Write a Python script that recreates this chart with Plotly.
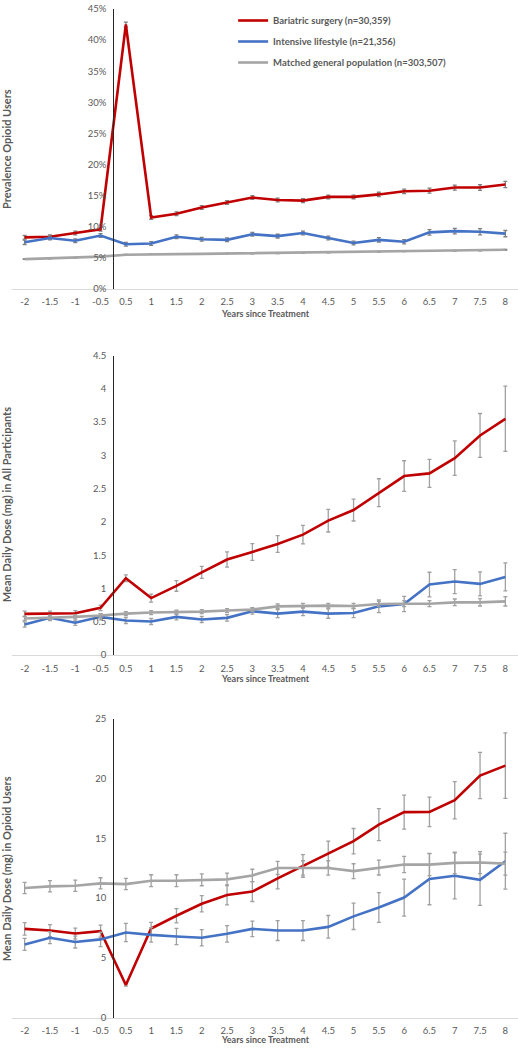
import plotly.graph_objects as go

years = ["-2", "-1.5", "-1", "-0.5", "0.5", "1", "1.5", "2", "2.5", "3", "3.5",
         "4", "4.5", "5", "5.5", "6", "6.5", "7", "7.5", "8"]

series_names = ["Bariatric surgery (n=30,359)", "Intensive lifestyle (n=21,356)",
                "Matched general population (n=303,507)"]

# Panel 1: prevalence of opioid users (%)
prev_bs = [8.3, 8.4, 9.0, 9.6, 42.5, 11.5, 12.1, 13.1, 13.9, 14.7, 14.3, 14.2, 14.8, 14.8, 15.2, 15.7, 15.8, 16.3, 16.3, 16.8]
prev_bs_err = [0.3, 0.3, 0.3, 0.3, 0.4, 0.3, 0.3, 0.3, 0.3, 0.3, 0.3, 0.3, 0.3, 0.3, 0.35, 0.35, 0.4, 0.4, 0.45, 0.5]
prev_il = [7.5, 8.2, 7.75, 8.6, 7.2, 7.3, 8.4, 8.0, 7.9, 8.8, 8.5, 9.0, 8.2, 7.4, 7.9, 7.6, 9.1, 9.3, 9.2, 8.9]
prev_il_err = [0.35, 0.3, 0.3, 0.3, 0.3, 0.3, 0.3, 0.3, 0.3, 0.3, 0.3, 0.3, 0.3, 0.3, 0.35, 0.35, 0.45, 0.45, 0.5, 0.5]
prev_gp = [4.8, 4.9, 5.0, 5.2, 5.5, 5.6, 5.6, 5.65, 5.7, 5.7, 5.75, 5.8, 5.85, 5.95, 6.0, 6.05, 6.1, 6.15, 6.2, 6.3]
prev_gp_err = [0.05] * 20

# Panel 2: mean daily dose (mg) in all participants
dose_bs = [0.62, 0.62, 0.63, 0.71, 1.155, 0.857, 1.04, 1.244, 1.437, 1.55, 1.67, 1.81, 2.02, 2.18, 2.44, 2.69, 2.73, 2.96, 3.30, 3.55]
dose_bs_err = [0.04, 0.04, 0.04, 0.04, 0.05, 0.06, 0.08, 0.09, 0.115, 0.125, 0.125, 0.14, 0.17, 0.165, 0.21, 0.23, 0.21, 0.26, 0.33, 0.49]
dose_il = [0.46, 0.56, 0.486, 0.575, 0.52, 0.505, 0.575, 0.535, 0.56, 0.66, 0.624, 0.654, 0.624, 0.634, 0.733, 0.768, 1.06, 1.105, 1.07, 1.175]
dose_il_err = [0.04, 0.04, 0.04, 0.045, 0.045, 0.045, 0.045, 0.045, 0.05, 0.045, 0.06, 0.06, 0.07, 0.07, 0.095, 0.115, 0.185, 0.18, 0.18, 0.21]
dose_gp = [0.55, 0.56, 0.575, 0.595, 0.624, 0.64, 0.644, 0.654, 0.67, 0.684, 0.733, 0.743, 0.743, 0.738, 0.768, 0.773, 0.773, 0.793, 0.793, 0.808]
dose_gp_err = [0.03, 0.03, 0.03, 0.03, 0.03, 0.03, 0.03, 0.03, 0.03, 0.03, 0.035, 0.035, 0.035, 0.04, 0.04, 0.045, 0.045, 0.05, 0.055, 0.07]

# Panel 3: mean daily dose (mg) in opioid users
user_bs = [7.42, 7.28, 7.03, 7.23, 2.73, 7.45, 8.52, 9.52, 10.26, 10.54, 11.64, 12.69, 13.68, 14.76, 16.14, 17.19, 17.21, 18.18, 20.25, 21.08]
user_bs_err = [0.52, 0.5, 0.45, 0.5, 0.1, 0.52, 0.6, 0.68, 0.83, 0.83, 0.88, 0.95, 1.09, 1.06, 1.34, 1.42, 1.24, 1.56, 1.93, 2.74]
user_il = [6.12, 6.68, 6.32, 6.54, 7.12, 6.92, 6.79, 6.68, 7.01, 7.42, 7.28, 7.28, 7.59, 8.47, 9.21, 10.04, 11.59, 11.86, 11.53, 13.08]
user_il_err = [0.5, 0.5, 0.5, 0.6, 0.76, 0.6, 0.68, 0.68, 0.69, 0.65, 0.83, 0.83, 0.95, 1.1, 1.24, 1.55, 2.15, 1.93, 2.14, 2.34]
user_gp = [10.84, 10.98, 11.03, 11.23, 11.17, 11.45, 11.45, 11.53, 11.56, 11.89, 12.52, 12.52, 12.52, 12.25, 12.55, 12.8, 12.8, 12.94, 12.97, 12.88]
user_gp_err = [0.47, 0.47, 0.47, 0.47, 0.47, 0.5, 0.5, 0.5, 0.52, 0.52, 0.55, 0.6, 0.6, 0.62, 0.62, 0.68, 0.92, 0.9, 0.92, 0.97]

colors = ["#C00000", "#4472C4", "#A5A5A5"]
TXT = "#595959"
FONT = "Lato"

panels = [
    (dict(y=[prev_bs, prev_il, prev_gp], e=[prev_bs_err, prev_il_err, prev_gp_err]),
     "Prevalence Opioid Users", [0, 45], 5, "%", "#7f7f7f"),
    (dict(y=[dose_bs, dose_il, dose_gp], e=[dose_bs_err, dose_il_err, dose_gp_err]),
     "Mean Daily Dose (mg) in All Participants", [0, 4.5], 0.5, "", "#a0a0a0"),
    (dict(y=[user_bs, user_il, user_gp], e=[user_bs_err, user_il_err, user_gp_err]),
     "Mean Daily Dose (mg) in Opioid Users", [0, 25], 5, "", "#a0a0a0"),
]

H = 1050
# pixel extents (top, bottom) of each panel
pix = [(3, 286), (353.3, 656), (720.3, 1022.3)]
xt_title_y = [311, 680, 1044]
ytitle_y = [145, 504, 872]

fig = go.Figure()
layout = dict(
    width=518, height=H, paper_bgcolor="white", plot_bgcolor="white",
    margin=dict(l=12, r=0, t=0, b=0),
    font=dict(family=FONT, color=TXT, size=9),
    legend=dict(x=0.437, y=1.0, xanchor="left", yanchor="top",
                bgcolor="rgba(0,0,0,0)", font=dict(size=9.5, color=TXT, family=FONT, weight="bold"),
                traceorder="grouped", tracegroupgap=2, itemwidth=30),
    annotations=[],
)

for p, (data, ytitle, yr, dt, suf, ecol) in enumerate(panels):
    xa = "x" if p == 0 else f"x{p+1}"
    ya = "y" if p == 0 else f"y{p+1}"
    for s in range(3):
        fig.add_trace(go.Scatter(
            x=years, y=data["y"][s], mode="lines", name=series_names[s],
            line=dict(color=colors[s], width=2.6),
            error_y=dict(type="data", array=data["e"][s], visible=True,
                         color=ecol, thickness=1.3, width=2),
            xaxis=xa, yaxis=ya, showlegend=(p == 0), legendgroup=f"g{s}",
        ))
    top, bot = pix[p]
    dom = [1 - bot / H, 1 - top / H]
    xkey = "xaxis" if p == 0 else f"xaxis{p+1}"
    ykey = "yaxis" if p == 0 else f"yaxis{p+1}"
    layout[xkey] = dict(
        type="category", categoryorder="array", categoryarray=years,
        range=[-0.5, 19.5], domain=[0, 1], anchor=ya,
        showline=True, linecolor="#d9d9d9", linewidth=1,
        showgrid=False, zeroline=False, ticks="outside", ticklen=4,
        tickcolor="rgba(0,0,0,0)", tickfont=dict(size=9.5, color=TXT, family=FONT),
    )
    layout[ykey] = dict(
        range=yr, dtick=dt, tick0=0, ticksuffix=suf, domain=dom,
        anchor="free", position=0.2,
        showline=True, linecolor="#262626", linewidth=1,
        showgrid=False, zeroline=False, ticks="outside", ticklen=5,
        tickcolor="rgba(0,0,0,0)", tickfont=dict(size=9.5, color=TXT, family=FONT),
    )
    layout["annotations"].append(dict(
        text="<b>Years since Treatment</b>", xref="paper", yref="paper",
        x=0.5, y=1 - xt_title_y[p] / H, xanchor="center", yanchor="middle",
        showarrow=False, font=dict(size=9, color=TXT, family=FONT)))
    layout["annotations"].append(dict(
        text=f"<b>{ytitle}</b>", xref="paper", yref="paper", textangle=-90,
        x=-5.5 / 506, y=1 - ytitle_y[p] / H, xanchor="center", yanchor="middle",
        showarrow=False, font=dict(size=11, color=TXT, family=FONT)))

fig.update_layout(**layout)
fig.write_html("out.html", config={"displayModeBar": False},
               post_script="document.body.style.margin='0';")
